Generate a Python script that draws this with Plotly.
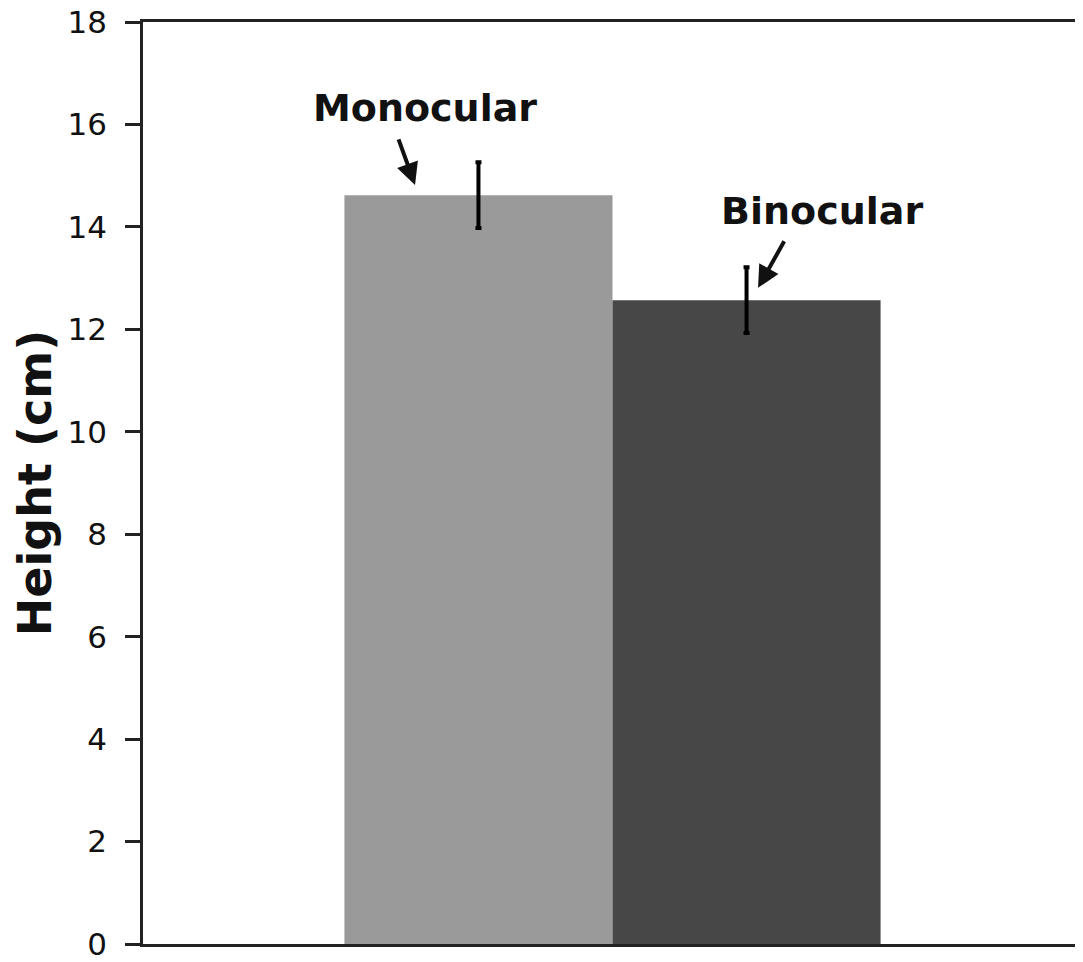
import plotly.graph_objects as go

# Data
groups = ["Monocular", "Binocular"]
heights = [14.62, 12.57]
errors = [0.64, 0.64]
colors = ["#9a9a9a", "#474747"]
y_ticks = [0, 2, 4, 6, 8, 10, 12, 14, 16, 18]

fig = go.Figure()
for name, h, e, c in zip(groups, heights, errors, colors):
    fig.add_trace(go.Bar(
        x=[""], y=[h], name=name,
        marker=dict(color=c, line=dict(width=0)),
        error_y=dict(type="data", array=[e], visible=True,
                     color="#000000", thickness=4, width=3),
    ))

# page body has an 8px default margin; offset margins accordingly
fig.update_layout(
    width=1075, height=954,
    margin=dict(l=135, r=1, t=14, b=18, autoexpand=False),
    barmode="group", bargap=0.429, bargroupgap=0,
    showlegend=False,
    plot_bgcolor="white", paper_bgcolor="white",
    font=dict(family="DejaVu Sans", color="#111111"),
)
fig.update_yaxes(
    range=[0, 18], tickvals=y_ticks, ticktext=[str(v) for v in y_ticks],
    showgrid=False, zeroline=False, automargin=False,
    showline=True, linewidth=2.5, linecolor="#222222", mirror=True,
    ticks="outside", ticklen=15, tickwidth=2.5, tickcolor="#222222",
    ticklabelstandoff=12, ticklabeloverflow="allow",
    tickfont=dict(family="DejaVu Sans", size=31, color="#111111"),
    title=dict(text="<b>Height (cm)</b>", standoff=12,
               font=dict(family="DejaVu Sans", size=46, color="#111111")),
)
fig.update_xaxes(
    showgrid=False, zeroline=False, showticklabels=False, ticks="", automargin=False,
    showline=True, linewidth=2.5, linecolor="#222222", mirror=True,
)

# Labels and arrows
fig.add_annotation(xref="paper", yref="y", x=0.2998, y=16.33, text="<b>Monocular</b>",
                   xanchor="center", yanchor="middle",
                   showarrow=False, font=dict(family="DejaVu Sans", size=38, color="#111111"))
fig.add_annotation(xref="paper", yref="y", x=0.723, y=14.32, text="<b>Binocular</b>",
                   xanchor="center", yanchor="middle",
                   showarrow=False, font=dict(family="DejaVu Sans", size=38, color="#111111"))
fig.add_annotation(xref="paper", yref="y", x=0.2897, y=14.82, text="", showarrow=True,
                   ax=-17, ay=-47, arrowhead=2, arrowsize=1.1, arrowwidth=4, arrowcolor="#111111")
fig.add_annotation(xref="paper", yref="y", x=0.655, y=12.81, text="", showarrow=True,
                   ax=27, ay=-48, arrowhead=2, arrowsize=1.1, arrowwidth=4, arrowcolor="#111111")

fig.write_html("out.html")
